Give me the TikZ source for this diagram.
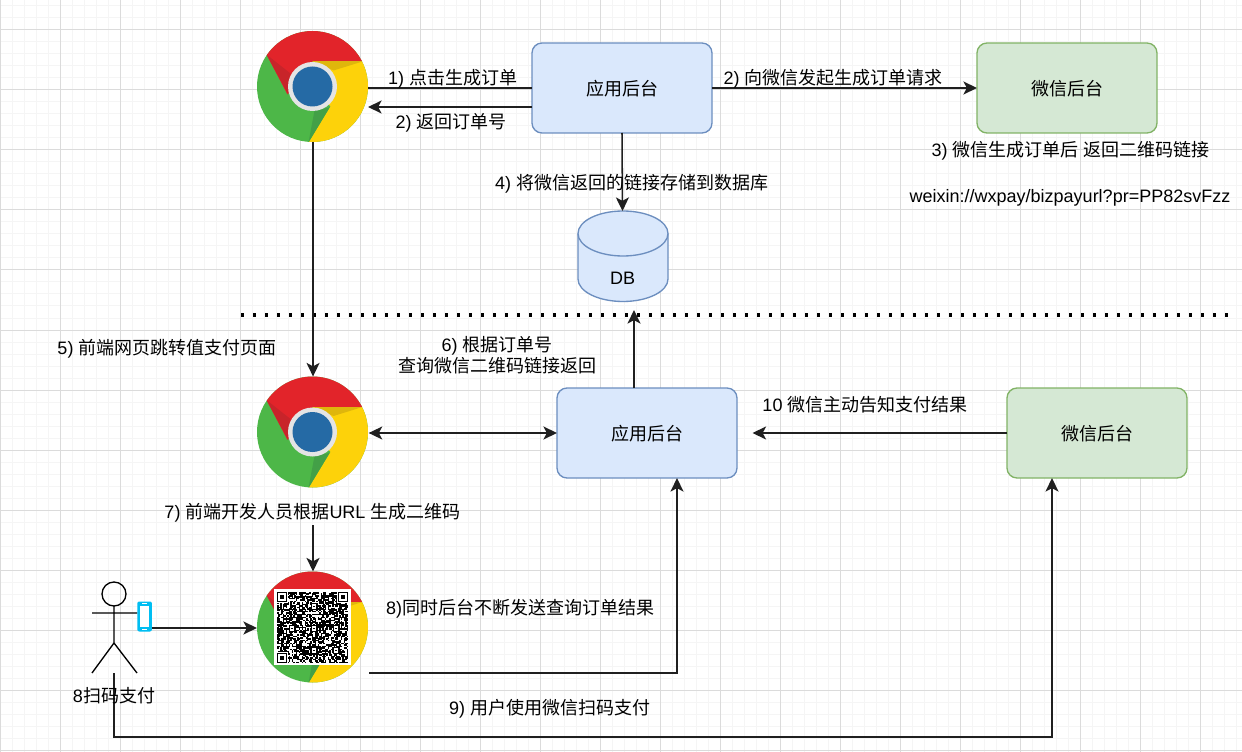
\documentclass[tikz,border=0pt]{standalone}
\usepackage{fontspec}
\setmainfont{Liberation Sans}
\newfontfamily\cjk{Noto Sans CJK SC}
\newcommand\cj[1]{{\cjk #1}}
\newcommand\boxtxt[1]{\smash{\raisebox{-5.5pt}{\cjk #1}}}
\usetikzlibrary{arrows.meta,calc}
\definecolor{bluefill}{HTML}{DAE8FC}
\definecolor{bluedraw}{HTML}{6C8EBF}
\definecolor{greenfill}{HTML}{D5E8D4}
\definecolor{greendraw}{HTML}{82B366}
\definecolor{chred}{HTML}{E2242A}
\definecolor{chdred}{HTML}{C8242A}
\definecolor{chyel}{HTML}{FDD20A}
\definecolor{chdyel}{HTML}{DFB60C}
\definecolor{chgrn}{HTML}{4DB748}
\definecolor{chdgrn}{HTML}{43A047}
\definecolor{chblue}{HTML}{256AA5}
\definecolor{phonecol}{HTML}{00BEF2}
\definecolor{chipring}{HTML}{E4E4E4}
\newcommand\chromebase{%
  \begin{scope}[shift={(path picture bounding box.center)}]
    \fill[chgrn] (-60,-60) rectangle (60,60);
    \fill[chred] (-46,-32) -- (-25,8) -- (0,-25) -- (50,-25) -- (70,-25) -- (70,-70) -- (-70,-70) -- (-70,-32) -- cycle;
    \fill[chdred] (-46,-32) -- (-22,-13) -- (-25,7) -- cycle;
    \fill[chyel] (50,-25) -- (70,-25) -- (70,70) -- (-4,70) -- (-4,56) -- (18,20) -- (0,0) -- (0,-25) -- cycle;
    \fill[chdyel] (0,-25) -- (50,-25) -- (21,-16) -- cycle;
    \fill[chdgrn] (-4,56) -- (17,21) -- (2,24) -- cycle;
    \fill[chipring] (0,0) circle (24.5);
    \fill[chblue] (0,0) circle (20);
  \end{scope}}
\tikzset{
  x=0.75pt,y=-0.75pt,
  chromenode/.style={circle,minimum size=83.25pt,inner sep=0pt,outer sep=0pt,path picture={\chromebase}},
  appbox/.style={draw=bluedraw,fill=bluefill,rounded corners=7.5pt,line width=1pt,minimum width=135pt,minimum height=67.5pt,inner sep=0pt,outer sep=0pt,font=\fontsize{13.5}{17}\selectfont},
  wxbox/.style={appbox,draw=greendraw,fill=greenfill},
  lbl/.style={inner sep=0pt,outer sep=0pt,yshift=-1pt,font=\fontsize{13.5}{15.75}\selectfont,align=center,text=black},
  arr/.style={draw=black!88,line width=1.15pt,-{Stealth[length=10.2pt,width=9.75pt,inset=2.6pt]}},
  arrboth/.style={arr,{Stealth[length=10.2pt,width=9.75pt,inset=2.6pt]}-{Stealth[length=10.2pt,width=9.75pt,inset=2.6pt]}},
  plain/.style={draw=black!88,line width=1.15pt},
  actor/.style={draw=black,line width=1pt},
}
\begin{document}
\begin{tikzpicture}
\useasboundingbox (0,0) rectangle (1242,752);
\fill[white] (0,0) rectangle (1242,752);
% grid
\begin{scope}
\clip (0,0) rectangle (1242,752);
\foreach \k in {0,...,103} \draw[black!4,line width=0.75pt] (12*\k,0) -- (12*\k,752);
\foreach \k in {0,...,62} \draw[black!4,line width=0.75pt] (0,6+12*\k) -- (1242,6+12*\k);
\foreach \k in {0,...,20} \draw[black!14,line width=0.75pt] (60*\k,0) -- (60*\k,752);
\foreach \k in {0,...,12} \draw[black!14,line width=0.75pt] (0,30+60*\k) -- (1242,30+60*\k);
\end{scope}
% dotted separator
\coordinate (sepL) at (241,315);
\coordinate (sepR) at (1232,315);
\draw[black,line width=2.5pt,dash pattern=on 2.5pt off 6.5pt] (sepL) -- (sepR);

% icons
\node[chromenode] (c1) at (312.5,86.5) {};
\node[chromenode] (c2) at (312.5,432) {};
\node[chromenode] (c3) at (312.5,627) {};
% QR code
\begin{scope}[shift={(c3.center)}]
  \fill[white] (-38.5,-38) rectangle (38.5,38);
  \pgfmathsetseed{11}
  \foreach \i in {0,...,48}{\foreach \j in {0,...,48}{%
    \pgfmathrandominteger{\rr}{0}{9}%
    \ifnum\rr<6 \fill[black] ({-35.5+\i*1.45},{-35+\j*1.45}) rectangle ++(1.6,1.6);\fi
  }}
  \foreach \px/\py in {-35.5/-35, 25.35/-35, -35.5/25.85}{
    \fill[white] (\px-1,\py-1) rectangle ++(12.2,12.2);
    \fill[black] (\px,\py) rectangle ++(10.15,10.15);
    \fill[white] (\px+1.45,\py+1.45) rectangle ++(7.25,7.25);
    \fill[black] (\px+2.9,\py+2.9) rectangle ++(4.35,4.35);
  }
  \foreach \px/\py in {-2/-2, -2/-24, -2/20, -24/-2, 20/-2, 20/20}{
    \fill[black] (\px,\py) rectangle ++(7.25,7.25);
    \fill[white] (\px+1.45,\py+1.45) rectangle ++(4.35,4.35);
    \fill[black] (\px+2.9,\py+2.9) rectangle ++(1.45,1.45);
  }
\end{scope}

% boxes
\node[appbox] (box1) at (622,88) {\boxtxt{应用后台}};
\node[wxbox] (wx1) at (1067,88) {\boxtxt{微信后台}};
\node[appbox] (box2) at (647,433) {\boxtxt{应用后台}};
\node[wxbox] (wx2) at (1097,433) {\boxtxt{微信后台}};

% database
\coordinate (dbT) at (622.5,211);
\draw[draw=bluedraw,fill=bluefill,line width=1pt] (578,233.5) arc[start angle=180,end angle=0,x radius=45,y radius=-22.5] -- (668,279) arc[start angle=0,end angle=-180,x radius=45,y radius=-22.5] -- cycle;
\draw[draw=bluedraw,line width=1pt] (578,233.5) arc[start angle=180,end angle=360,x radius=45,y radius=-22.5];
\node[lbl] (dbl) at (622.5,277) {DB};

% person and phone
\node[circle,draw=black,line width=1pt,minimum size=18pt,inner sep=0pt,outer sep=0pt] (head) at (114,594) {};
\node[inner sep=0pt,outer sep=0pt,minimum width=11pt,minimum height=22.5pt] (phone) at (144.6,616.5) {};
\coordinate (hip) at (114,643);
\coordinate (armL) at (92,613);
\coordinate (legL) at (92,673);
\coordinate (legR) at (137,673);
\coordinate (foot) at (114,673);
\draw[actor] (head.south) -- (hip) (armL) -- (phone.west |- armL) (legL) -- (hip) -- (legR);
\fill[phonecol,rounded corners=1.5pt] (phone.south west) rectangle (phone.north east);
\fill[white] ($(phone.north west)+(2.6,4)$) rectangle ($(phone.south east)+(-2.6,-5)$);
\fill[white] ($(phone.south)+(-2.5,-2.4)$) rectangle ($(phone.south)+(2.5,-1.4)$);
\fill[white] ($(phone.north)+(-2.5,1.3)$) rectangle ($(phone.north)+(2.5,2.2)$);

% connectors
\draw[plain] (c1.east |- box1.west) -- (box1.west);
\coordinate (ret) at ([shift={(0,19)}]box1.west);
\draw[arr] (ret) -- (c1.east |- ret);
\draw[arr] (box1.east) -- (wx1.west);
\draw[arr] (box1.south) -- (dbT);
\draw[arr] ([xshift=0.4pt]c1.south) -- ([xshift=0.4pt]c2.north);
\draw[arrboth] ([xshift=0.5pt]c2.east |- box2.west) -- (box2.west);
\coordinate (upTop) at (634,310);
\draw[arr] (upTop |- box2.north) -- (upTop);
\coordinate (tenEnd) at (752.5,433);
\draw[arr] (wx2.west) -- (tenEnd);
\coordinate (qrStart) at (313,525);
\draw[arr] (qrStart) -- (c3.north -| qrStart);
\draw[arr] (phone.east |- 0,628) -- (c3.west |- 0,628);
\coordinate (q1) at (369,673);
\coordinate (q2) at (677,673);
\draw[arr] (q1) -- (q2) -- (q2 |- box2.south);
\coordinate (p1) at (114,737);
\coordinate (p2) at (1052,737);
\draw[arr] (foot) -- (p1) -- (p2) -- (p2 |- wx2.south);

% labels
\node[lbl] (l1) at (452.5,77) {1) \cj{点击生成订单}};
\node[lbl] (l2) at (451,122) {2) \cj{返回订单号}};
\node[lbl] (l3) at (833,77) {2) \cj{向微信发起生成订单请求}};
\node[lbl] (l4) at (1070.5,149) {3) \cj{微信生成订单后} \cj{返回二维码链接}};
\node[lbl] (l5) at (1070,197) {weixin://wxpay/bizpayurl?pr=PP82svFzz};
\node[lbl] (l6) at (631.5,182) {4) \cj{将微信返回的链接存储到数据库}};
\node[lbl] (l7) at (167,347) {5) \cj{前端网页跳转值支付页面}};
\node[lbl] (l8) at (497,354) {6) \cj{根据订单号}\\\cj{查询微信二维码链接返回}};
\node[lbl] (l9) at (865,403) {10 \cj{微信主动告知支付结果}};
\node[lbl] (l10) at (312.5,511) {7) \cj{前端开发人员根据}URL \cj{生成二维码}};
\node[lbl] (l11) at (520,607) {8)\cj{同时后台不断发送查询订单结果}};
\node[lbl] (l12) at (114,694) {8\cj{扫码支付}};
\node[lbl] (l13) at (549.5,707) {9) \cj{用户使用微信扫码支付}};
\end{tikzpicture}
\end{document}
